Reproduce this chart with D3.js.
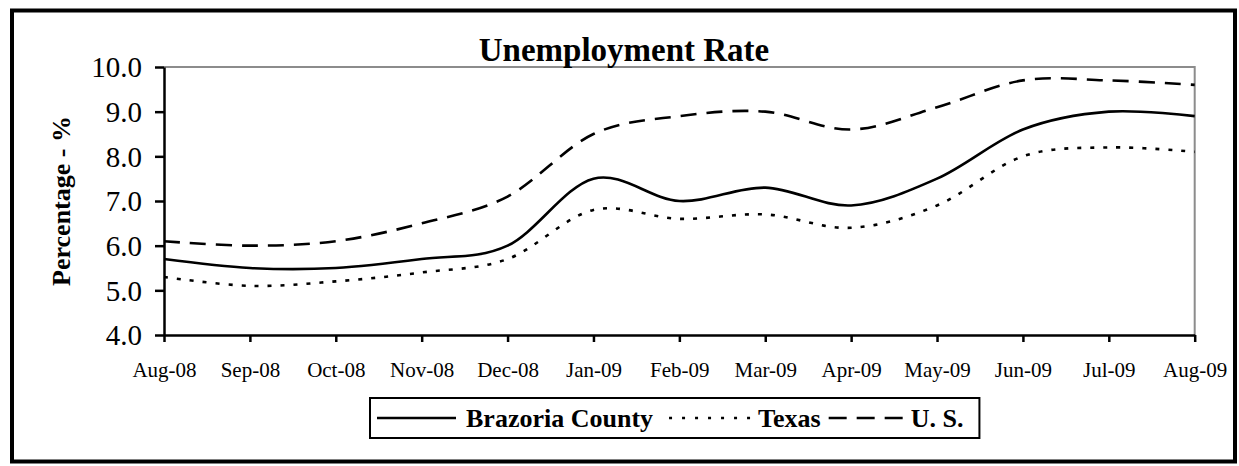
<!DOCTYPE html>
<html>
<head>
<meta charset="utf-8">
<script src="https://cdn.jsdelivr.net/npm/d3@7"></script>
<style>
  body { margin: 0; background: #fff; }
  svg { display: block; font-family: "Liberation Serif", "Times New Roman", serif; }
</style>
</head>
<body>
<div id="chart"></div>
<script>
// chart size
const width = 1239
const height = 466
const margin = { left: 164, right: 44.3, top: 67, bottom: 131 }

// Data
const months = ["Aug-08", "Sep-08", "Oct-08", "Nov-08", "Dec-08", "Jan-09", "Feb-09", "Mar-09", "Apr-09", "May-09", "Jun-09", "Jul-09", "Aug-09"]
const brazoria = [5.7, 5.5, 5.5, 5.7, 6.0, 7.5, 7.0, 7.3, 6.9, 7.5, 8.6, 9.0, 8.9]
const texas = [5.3, 5.1, 5.2, 5.4, 5.7, 6.8, 6.6, 6.7, 6.4, 6.9, 8.0, 8.2, 8.1]
const us = [6.1, 6.0, 6.1, 6.5, 7.1, 8.5, 8.9, 9.0, 8.6, 9.1, 9.7, 9.7, 9.6]
const yTicks = [4, 5, 6, 7, 8, 9, 10]

// line styles for each series
const series = [
  { name: "Brazoria County", values: brazoria, dash: null, legendDash: null },
  { name: "Texas", values: texas, dash: "4,9", legendDash: "3,10" },
  { name: "U. S.", values: us, dash: "16,10", legendDash: "18,10" }
]

var svg = d3.select("#chart")
  .append("svg")
  .attr("width", width)
  .attr("height", height)

// outer frame
svg.append("rect")
  .attr("x", 12)
  .attr("y", 10.5)
  .attr("width", 1223)
  .attr("height", 451)
  .attr("fill", "none")
  .attr("stroke", "black")
  .attr("stroke-width", 4)

var x = d3.scalePoint()
  .domain(months)
  .range([margin.left, width - margin.right])

var y = d3.scaleLinear()
  .domain([4, 10])
  .range([height - margin.bottom, margin.top])

// plot area border (grey top and right)
svg.append("path")
  .attr("d", "M" + x.range()[0] + "," + y(10) + "H" + x.range()[1] + "V" + y(4))
  .attr("fill", "none")
  .attr("stroke", "#8c8c8c")
  .attr("stroke-width", 2)

// title
svg.append("text")
  .attr("x", 624)
  .attr("y", 61)
  .attr("text-anchor", "middle")
  .style("font-size", "33px")
  .style("font-weight", "bold")
  .text("Unemployment Rate")

// lines
var line = d3.line()
  .x(function(d, i) { return x(months[i]) })
  .y(function(d) { return y(d) })
  .curve(d3.curveCardinal.tension(0))

svg.append("g")
  .selectAll("path")
  .data(series)
  .enter().append("path")
    .attr("d", function(d) { return line(d.values) })
    .attr("fill", "none")
    .attr("stroke", "black")
    .attr("stroke-width", 2.6)
    .attr("stroke-dasharray", function(d) { return d.dash })

// y axis
var yAxis = svg.append("g")
  .attr("transform", "translate(" + margin.left + ",0)")
  .call(d3.axisLeft(y).tickValues(yTicks).tickFormat(d3.format(".1f")).tickSize(9).tickSizeOuter(0).tickPadding(13))
yAxis.select(".domain").attr("stroke-width", 2.5)
yAxis.selectAll(".tick line").attr("stroke-width", 2.5)
yAxis.selectAll("text")
  .style("font-family", "Liberation Serif")
  .style("font-size", "29px")
  .attr("fill", "black")
  .attr("dy", "0.34em")

// x axis
var xAxis = svg.append("g")
  .attr("transform", "translate(0," + y(4) + ")")
  .call(d3.axisBottom(x).tickSize(7).tickSizeOuter(0).tickPadding(20))
xAxis.select(".domain").attr("stroke-width", 2.5)
xAxis.selectAll(".tick line").attr("stroke-width", 2.5)
xAxis.selectAll("text")
  .style("font-family", "Liberation Serif")
  .style("font-size", "21px")
  .attr("fill", "black")

// y axis title
svg.append("text")
  .attr("transform", "translate(70,201) rotate(-90)")
  .attr("text-anchor", "middle")
  .style("font-size", "26px")
  .style("font-weight", "bold")
  .text("Percentage - %")

// legend
var legend = svg.append("g").attr("transform", "translate(0,418)")
var lineLen = [79, 82, 74]
var afterLine = [10, 7, 8]
var afterText = [16, 8, 0]
var pos = 377
series.forEach(function(s, i) {
  legend.append("line")
    .attr("x1", pos).attr("x2", pos + lineLen[i])
    .attr("y1", 0).attr("y2", 0)
    .attr("stroke", "black")
    .attr("stroke-width", 2.6)
    .attr("stroke-dasharray", s.legendDash)
  pos += lineLen[i] + afterLine[i]
  var t = legend.append("text")
    .attr("x", pos)
    .attr("y", 8.5)
    .style("font-size", "26px")
    .style("font-weight", "bold")
    .text(s.name)
  pos += t.node().getComputedTextLength() + afterText[i]
})
legend.insert("rect", ":first-child")
  .attr("x", 370)
  .attr("y", -20)
  .attr("width", pos + 16 - 370)
  .attr("height", 40)
  .attr("fill", "none")
  .attr("stroke", "black")
  .attr("stroke-width", 2)
</script>
</body>
</html>
